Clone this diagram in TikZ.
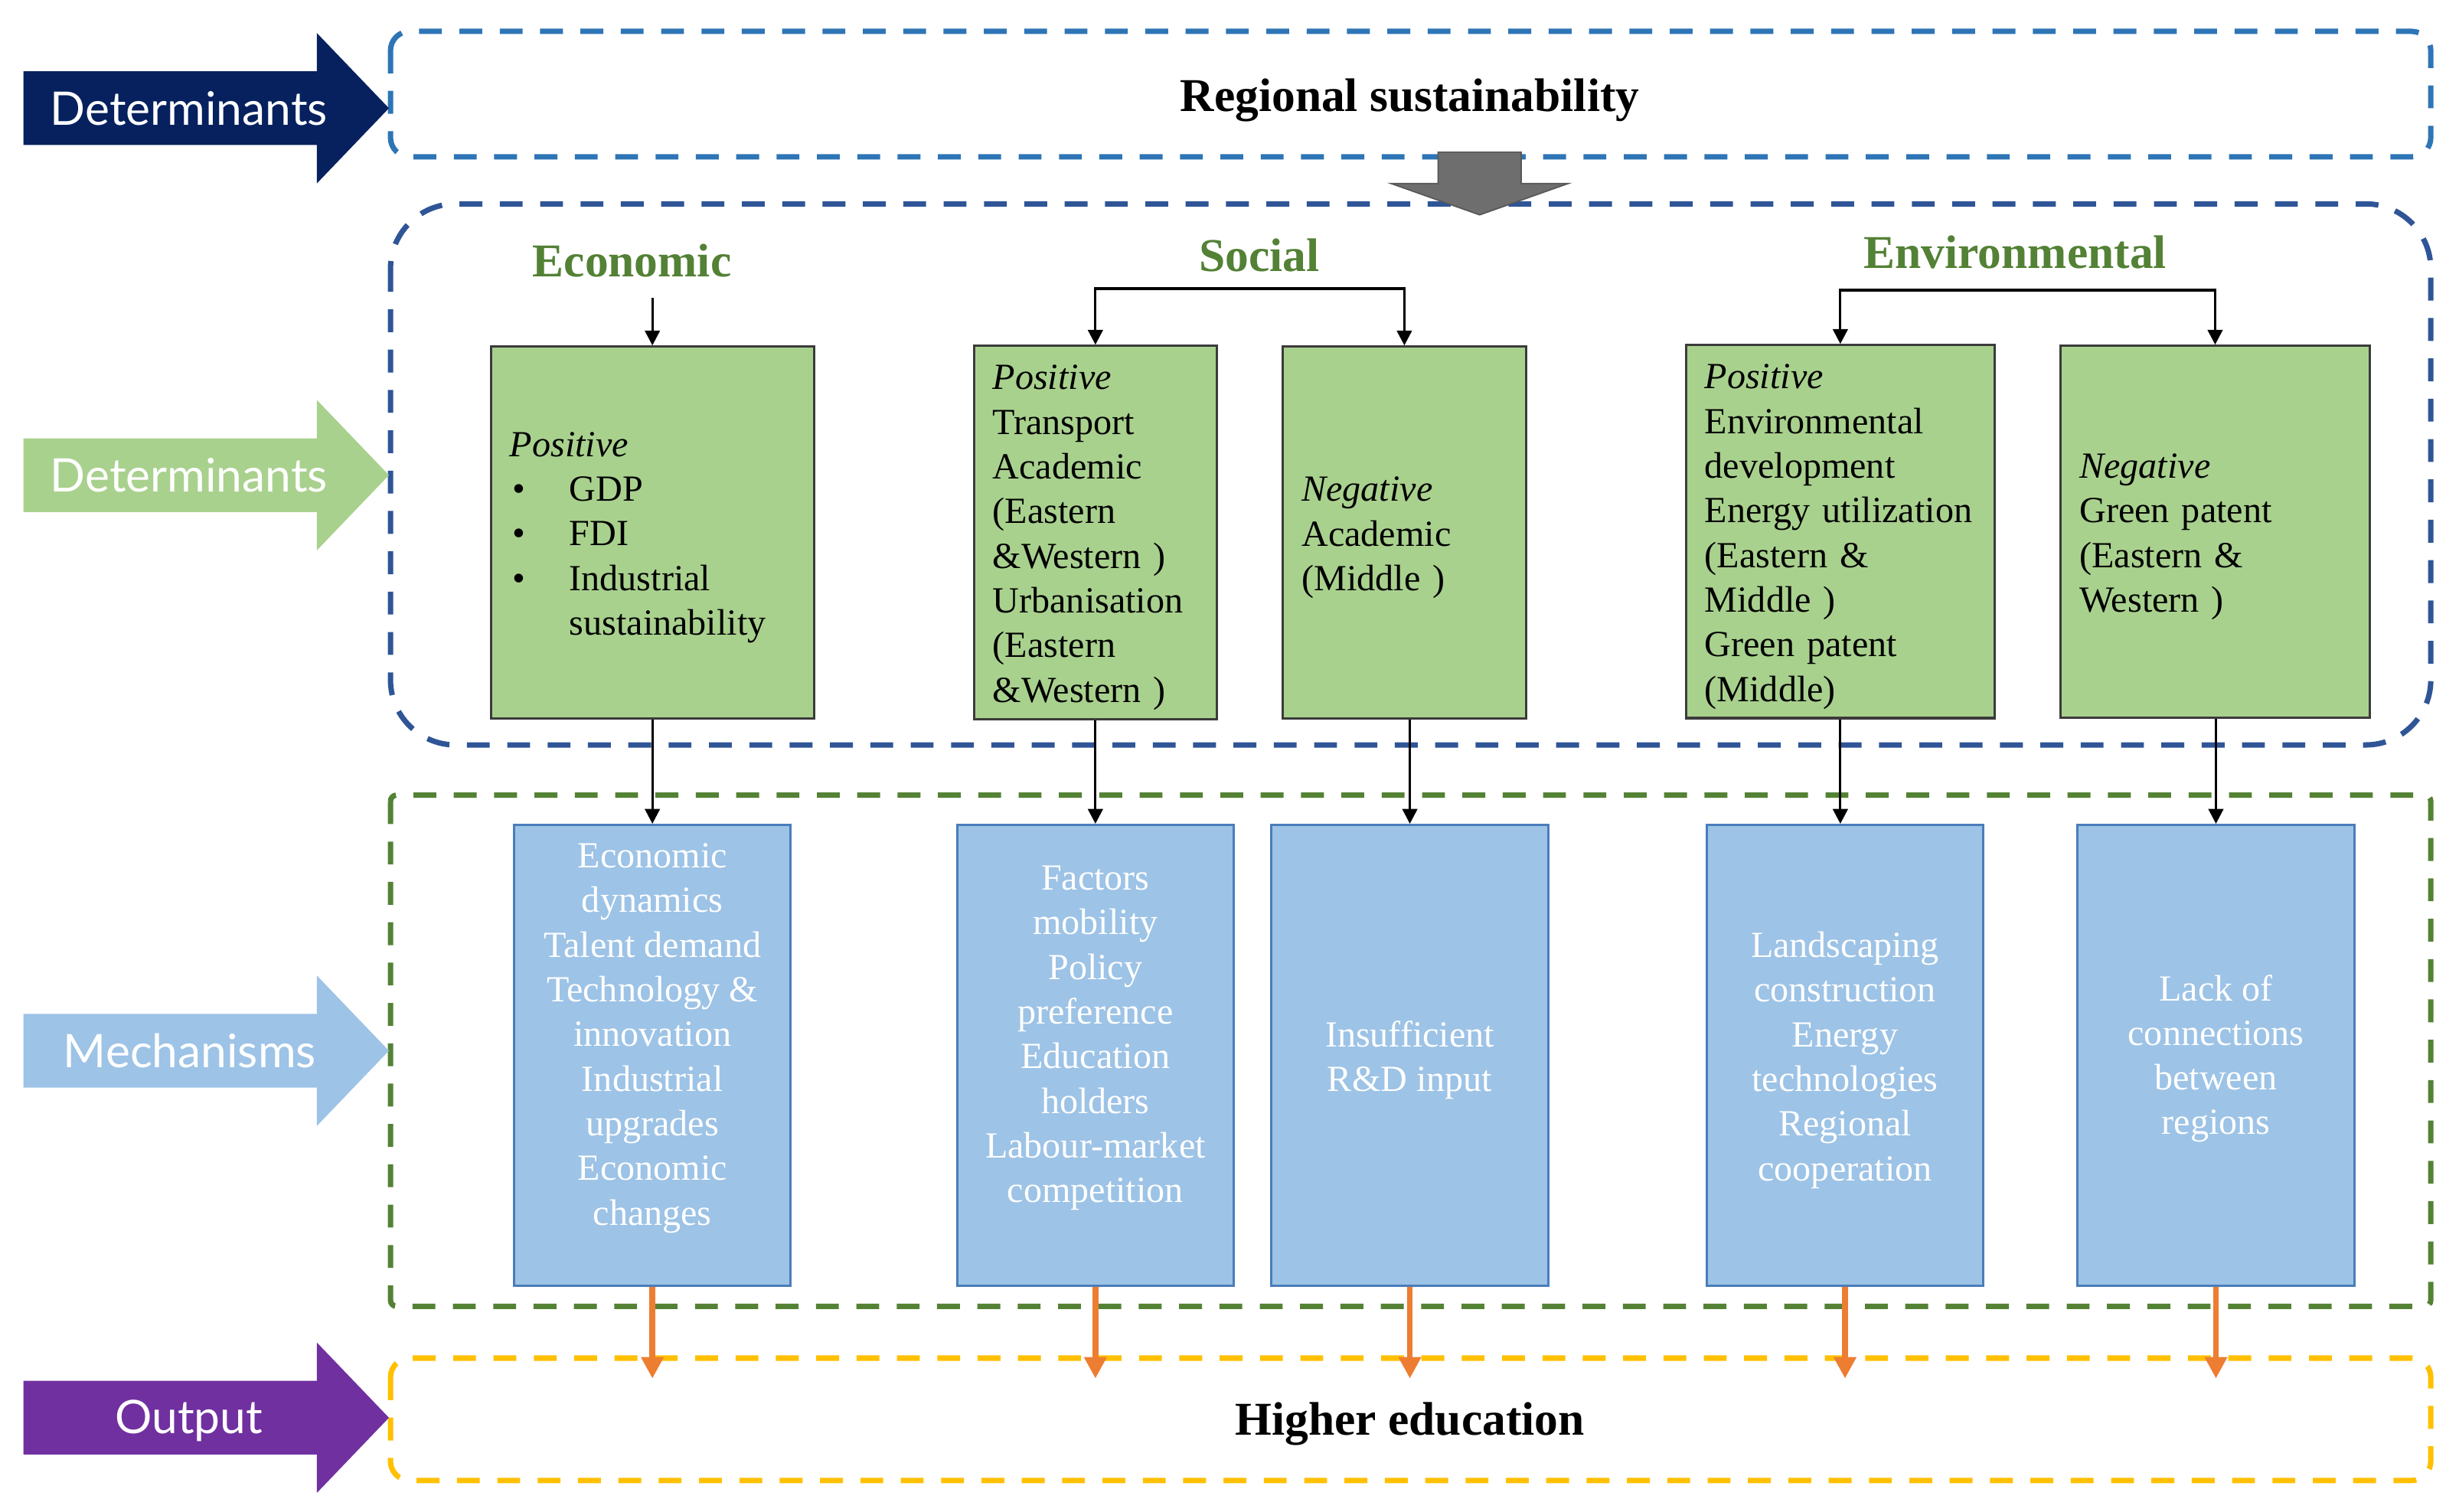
\documentclass[tikz,border=0pt]{standalone}
\usepackage{fontspec}
\setmainfont{Liberation Serif}
\newfontfamily\arrowfont{Lato}
\usetikzlibrary{arrows.meta,calc}
\definecolor{topblue}{HTML}{2E75B6}
\definecolor{navybox}{HTML}{2F5597}
\definecolor{dgreen}{HTML}{548235}
\definecolor{yel}{HTML}{FFC000}
\definecolor{gfill}{HTML}{A9D18E}
\definecolor{gborder}{HTML}{3B3B3B}
\definecolor{bfill}{HTML}{9DC3E6}
\definecolor{bborder}{HTML}{4A7DBA}
\definecolor{hgreen}{HTML}{538135}
\definecolor{orng}{HTML}{ED7D31}
\definecolor{purp}{HTML}{7030A0}
\definecolor{arrnavy}{HTML}{06215E}
\definecolor{greyarr}{HTML}{6E6E6E}
\newcommand\sidearrow[2]{\fill[#2] (15,{#1-23.5}) -- (202,{#1-23.5}) -- (202,{#1-48}) -- (248,#1) -- (202,{#1+48}) -- (202,{#1+23.5}) -- (15,{#1+23.5}) -- cycle;}
\newcommand\gtop{\rule{0pt}{12.9pt}}
\begin{document}
\begin{tikzpicture}[x=0.020485cm,y=-0.020485cm,
  container/.style={line width=2pt, dash pattern=on 8.5pt off 6.5pt},
  gbox/.style={draw=gborder, fill=gfill, line width=0.9pt, minimum height=4.855cm, inner xsep=0.246cm, align=left, text=black, font=\fontsize{13.7}{16.6}\selectfont},
  bbox/.style={draw=bborder, fill=bfill, line width=0.9pt, minimum width=3.615cm, minimum height=6.023cm, inner sep=0pt},
  btext/.style={align=center, text=white, inner sep=0pt, font=\fontsize{13.7}{16.6}\selectfont},
  heading/.style={text=hgreen, font=\fontsize{17.5}{20}\selectfont\bfseries},
  title/.style={text=black, font=\fontsize{17.5}{20}\selectfont\bfseries},
  alabel/.style={text=white, font=\arrowfont\fontsize{17.2}{20}\selectfont},
  blk/.style={line width=0.9pt, -{Triangle[width=5.5pt,length=5.5pt]}},
  blk2/.style={line width=0.9pt, {Triangle[width=5.5pt,length=5.5pt]}-{Triangle[width=5.5pt,length=5.5pt]}},
  org/.style={draw=orng, line width=2.2pt, -{Triangle[width=8pt,length=8pt]}}
]
\useasboundingbox (0,0) rectangle (1568,964);
\fill[white] (0,0) rectangle (1568,964);

% containers
\draw[container, topblue, rounded corners=0.25cm] (249,20) rectangle (1550,100);
\draw[container, navybox, rounded corners=0.85cm] (249,130) rectangle (1550,475);
\draw[container, dgreen, rounded corners=0.08cm] (249,507) rectangle (1550,833);
\draw[container, yel, rounded corners=0.25cm] (249,866) rectangle (1550,944);

% side arrows
\sidearrow{69}{arrnavy}
\sidearrow{303}{gfill}
\sidearrow{670}{bfill}
\sidearrow{904}{purp}
\node[alabel] (a1) at (120.5,69) {Determinants};
\node[alabel] (a2) at (120.5,303) {Determinants};
\node[alabel] (a3) at (121,670) {Mechanisms};
\node[alabel] (a4) at (120.5,906) {Output};

% grey arrow
\filldraw[fill=greyarr, draw=greyarr!80!black, line width=0.5pt] (917,97) -- (970,97) -- (970,117) -- (1000,117) -- (943.5,137) -- (887,117) -- (917,117) -- cycle;

% titles
\node[title] (rs) at (899,64) {Regional sustainability};
\node[title] (he) at (899,908) {Higher education};

% headings
\node[heading] (hec) at (403,166) {Economic};
\node[heading] (hso) at (803,163) {Social};
\node[heading] (hen) at (1285,161) {Environmental};

% green boxes
\node[gbox, text width=3.728cm] (g1) at (416,339.5) {\gtop\textit{Positive}\\
\makebox[0.78cm][l]{\hspace{1pt}\textbullet}GDP\\
\makebox[0.78cm][l]{\hspace{1pt}\textbullet}FDI\\
\makebox[0.78cm][l]{\hspace{1pt}\textbullet}Industrial\\
\hspace*{0.78cm}sustainability};
\node[gbox, text width=2.683cm] (g2) at (698.5,339.5) {\gtop\textit{Positive}\\Transport\\Academic\\(Eastern\\\&Western )\\Urbanisation\\(Eastern\\\&Western )};
\node[gbox, text width=2.683cm] (g3) at (895.5,339.5) {\gtop\textit{Negative}\\Academic\\(Middle )};
\node[gbox, text width=3.544cm] (g4) at (1173.5,339) {\gtop\textit{Positive}\\Environmental\\development\\Energy utilization\\(Eastern \&\\Middle )\\Green patent\\(Middle)};
\node[gbox, text width=3.544cm] (g5) at (1412.5,339) {\gtop\textit{Negative}\\Green patent\\(Eastern \&\\Western )};

% blue boxes
\node[bbox] (m1) at (416,673) {};
\node[bbox] (m2) at (698.5,673) {};
\node[bbox] (m3) at (899,673) {};
\node[bbox] (m4) at (1176.5,673) {};
\node[bbox] (m5) at (1413,673) {};
\node[btext] (t1) at (416,662) {Economic\\dynamics\\Talent demand\\Technology \&\\innovation\\Industrial\\upgrades\\Economic\\changes};
\node[btext] (t2) at (698.5,662) {Factors\\mobility\\Policy\\preference\\Education\\holders\\Labour-market\\competition};
\node[btext] (t3) at (899,676) {Insufficient\\R\&D input};
\node[btext] (t4) at (1176.5,676) {Landscaping\\construction\\Energy\\technologies\\Regional\\cooperation};
\node[btext] (t5) at (1413,675) {Lack of\\connections\\between\\regions};

% heading connectors
\coordinate (ea) at (416,190);
\coordinate (sy) at (797,184);
\coordinate (ey) at (1293,185);
\draw[blk] (ea) -- (g1.north);
\draw[blk2] (g2.north) |- (sy) -| (g3.north);
\draw[blk2] (g4.north) |- (ey) -| (g5.north);

% determinants to mechanisms
\draw[blk] (g1.south) -- (m1.north);
\draw[blk] (g2.south) -- (g2.south |- m2.north);
\draw[blk] (g3.south -| m3.north) -- (m3.north);
\draw[blk] (g4.south) -- (g4.south |- m4.north);
\draw[blk] (g5.south -| m5.north) -- (m5.north);

% mechanisms to output
\coordinate (oy) at (0,879);
\draw[org] (m1.south) -- (m1.south |- oy);
\draw[org] (m2.south) -- (m2.south |- oy);
\draw[org] (m3.south) -- (m3.south |- oy);
\draw[org] (m4.south) -- (m4.south |- oy);
\draw[org] (m5.south) -- (m5.south |- oy);
\end{tikzpicture}
\end{document}
